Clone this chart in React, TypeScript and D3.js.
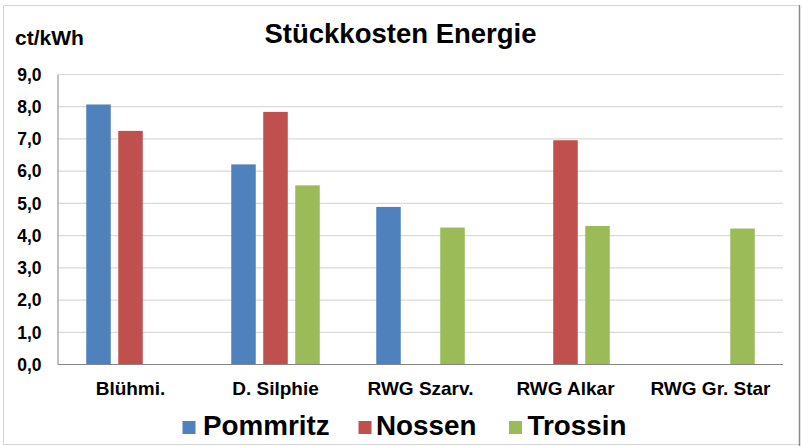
import React from "react";
import * as d3 from "d3";

const categories = ["Blühmi.", "D. Silphie", "RWG Szarv.", "RWG Alkar", "RWG Gr. Star"];
const seriesNames = ["Pommritz", "Nossen", "Trossin"];
const pommritz: (number | null)[] = [8.07, 6.21, 4.89, null, null];
const nossen: (number | null)[] = [7.25, 7.84, null, 6.96, null];
const trossin: (number | null)[] = [null, 5.56, 4.25, 4.3, 4.22];
const seriesValues = [pommritz, nossen, trossin];
const colors = ["#4F81BD", "#C0504D", "#9BBB59"];
const yTicks = [0, 1, 2, 3, 4, 5, 6, 7, 8, 9];

const W = 802;
const H = 446;
const plotLeft = 58;
const plotRight = 783;
const plotTop = 74.5;
const plotBottom = 364.5;
const FONT = "'Liberation Sans', Arial, sans-serif";

export default function App() {
  const x0 = d3.scaleBand<string>().domain(categories).range([plotLeft, plotRight]).padding(0);
  const x1 = d3
    .scaleBand<string>()
    .domain(seriesNames)
    .range([-48, 48])
    .paddingInner(0.234)
    .paddingOuter(0.117);
  const y = d3.scaleLinear().domain([0, 9]).range([plotBottom, plotTop]);
  const fmt = (v: number) => d3.format(".1f")(v).replace(".", ",");

  const legendItems = [
    { name: seriesNames[0], sq: 182.5, tx: 203 },
    { name: seriesNames[1], sq: 358.5, tx: 376 },
    { name: seriesNames[2], sq: 509, tx: 527.5 },
  ];

  return (
    <svg
      width={W}
      height={H}
      style={{ position: "absolute", left: 0, top: 0, background: "#fff" }}
      fontFamily={FONT}
    >
      <rect x={0} y={0} width={W} height={H} fill="#fff" />
      <rect x={3.5} y={5.5} width={796} height={439} fill="none" stroke="#d4d4d4" strokeWidth={1} />
      <line x1={799.5} x2={799.5} y1={5} y2={446} stroke="#8a8a8a" strokeWidth={1.5} />

      <text x={400.5} y={43} textAnchor="middle" fontSize={27.5} fontWeight="bold" fill="#000">
        Stückkosten Energie
      </text>
      <text x={15} y={45} fontSize={21} fontWeight="bold" fill="#000">
        ct/kWh
      </text>

      {yTicks.map((t) => (
        <g key={t}>
          {t > 0 && (
            <line
              x1={plotLeft}
              x2={plotRight}
              y1={y(t)}
              y2={y(t)}
              stroke="#d9d9d9"
              strokeWidth={1.2}
            />
          )}
          <text
            x={41.5}
            y={y(t)}
            dy="0.36em"
            textAnchor="end"
            fontSize={17.5}
            fontWeight="bold"
            fill="#000"
          >
            {fmt(t)}
          </text>
        </g>
      ))}

      {categories.map((c, ci) =>
        seriesValues.map((vals, si) => {
          const v = vals[ci];
          if (v == null) return null;
          const cx = (x0(c) as number) + x0.bandwidth() / 2;
          const bx = cx + (x1(seriesNames[si]) as number);
          return (
            <rect
              key={c + si}
              x={bx}
              y={y(v)}
              width={x1.bandwidth()}
              height={y(0) - y(v)}
              fill={colors[si]}
            />
          );
        })
      )}

      <line x1={plotLeft} x2={plotLeft} y1={plotTop} y2={plotBottom} stroke="#868686" strokeWidth={1} />
      <line x1={plotLeft} x2={plotRight} y1={plotBottom} y2={plotBottom} stroke="#868686" strokeWidth={1.2} />

      {categories.map((c) => (
        <text
          key={c}
          x={(x0(c) as number) + x0.bandwidth() / 2}
          y={395}
          textAnchor="middle"
          fontSize={19}
          fontWeight="bold"
          fill="#000"
        >
          {c}
        </text>
      ))}

      {legendItems.map((it, i) => (
        <g key={it.name}>
          <rect x={it.sq} y={421} width={13} height={13} fill={colors[i]} />
          <text x={it.tx} y={435} fontSize={27.8} fontWeight="bold" fill="#000">
            {it.name}
          </text>
        </g>
      ))}
    </svg>
  );
}
